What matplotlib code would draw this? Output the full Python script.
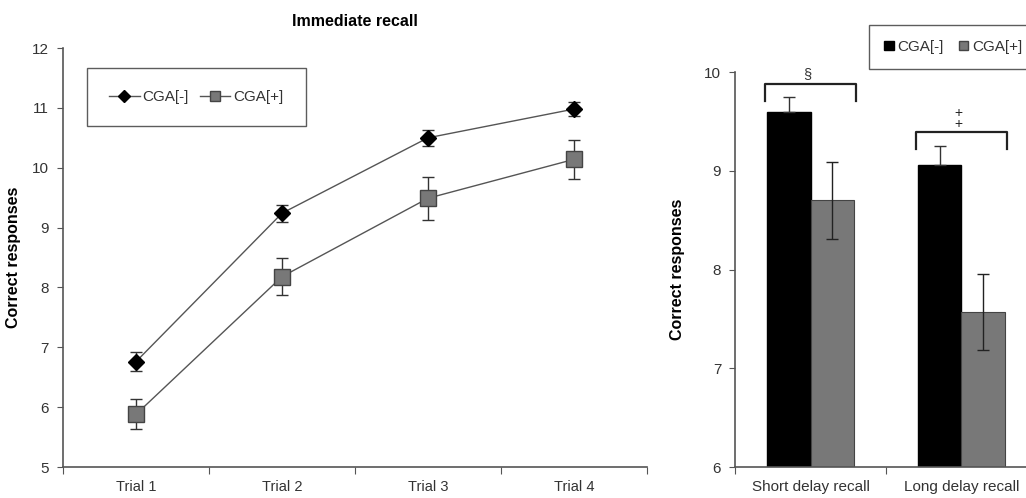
import matplotlib.pyplot as plt
from matplotlib.lines import Line2D
from matplotlib.patches import Patch
import numpy as np

# Immediate recall (line chart)
trials = ['Trial 1', 'Trial 2', 'Trial 3', 'Trial 4']
neg_mean = [6.76, 9.24, 10.5, 10.98]
neg_err = [0.16, 0.14, 0.13, 0.11]
pos_mean = [5.88, 8.18, 9.49, 10.14]
pos_err = [0.25, 0.31, 0.36, 0.32]

# Delayed recall (bar chart)
delays = ['Short delay recall', 'Long delay recall']
bar_neg = [9.6, 9.06]
bar_neg_err = [0.15, 0.19]
bar_pos = [8.7, 7.57]
bar_pos_err = [0.39, 0.38]

tick_col = '#333333'
axis_col = '#555555'
gray = '#787878'

plt.rcParams['font.family'] = ['Liberation Sans', 'DejaVu Sans']
fig = plt.figure(figsize=(10.26, 4.98), dpi=100)

# ---- left panel
ax = fig.add_axes([0.0614, 0.0622, 0.5692, 0.8414])
x = np.arange(len(trials))
ax.errorbar(x, neg_mean, yerr=neg_err, color='#555555', lw=1,
            marker='D', ms=8, mfc='black', mec='black',
            ecolor='#333333', elinewidth=1, capsize=4, capthick=1)
ax.errorbar(x, pos_mean, yerr=pos_err, color='#555555', lw=1,
            marker='s', ms=11, mfc=gray, mec='#444444',
            ecolor='#333333', elinewidth=1, capsize=4, capthick=1)
ax.set_xlim(-0.5, 3.5)
ax.set_ylim(5, 12)
ax.set_yticks(range(5, 13))
ax.set_xticks(np.arange(-0.5, 4, 1))
ax.set_xticklabels([])
ax.set_xticks(x, minor=True)
ax.set_xticklabels(trials, minor=True)
ax.tick_params(axis='x', which='minor', length=0, pad=9, labelsize=10.5, labelcolor=tick_col)
ax.tick_params(axis='x', which='major', length=5, color=axis_col, direction='out')
ax.tick_params(axis='y', length=4, color=axis_col, labelsize=11, labelcolor=tick_col, pad=6)
for s in ['top', 'right']:
    ax.spines[s].set_visible(False)
for s in ['left', 'bottom']:
    ax.spines[s].set_color(axis_col)
    ax.spines[s].set_linewidth(1.2)
ax.set_ylabel('Correct responses', fontsize=11.5, fontweight='bold', labelpad=8)
ax.set_title('Immediate recall', fontsize=11.5, fontweight='bold', pad=16)
h1 = [Line2D([], [], color='#555555', lw=1, marker='D', ms=6, mfc='black', mec='black'),
      Line2D([], [], color='#555555', lw=1, marker='s', ms=7, mfc=gray, mec='#444444')]
leg = ax.legend(h1, ['CGA[-]', 'CGA[+]'], loc='upper left', bbox_to_anchor=(0.041, 0.952),
                ncol=2, frameon=True, fancybox=False, edgecolor='#333333', fontsize=11,
                handlelength=2.0, columnspacing=0.7, handletextpad=0.2, borderpad=1.45,
                borderaxespad=0)
leg.get_frame().set_linewidth(1.0)
for t in leg.get_texts():
    t.set_color(tick_col)

# ---- right panel
bx = fig.add_axes([0.7164, 0.0622, 0.2943, 0.7932])
xb = np.arange(len(delays))
w = 0.29
bx.bar(xb - w / 2, bar_neg, w, color='black', edgecolor='black')
bx.bar(xb + w / 2, bar_pos, w, color=gray, edgecolor='#444444', lw=0.8)
bx.errorbar(xb - w / 2, bar_neg, yerr=[np.zeros(len(bar_neg)), bar_neg_err], fmt='none',
            ecolor='#333333', elinewidth=1, capsize=4)
bx.errorbar(xb + w / 2, bar_pos, yerr=bar_pos_err, fmt='none', ecolor='#222222',
            elinewidth=1, capsize=4)
# significance brackets
bk_y = [9.88, 9.39]
for i in range(len(delays)):
    y0 = bk_y[i]
    bx.plot([i - w - 0.01, i - w - 0.01, i + w + 0.01, i + w + 0.01],
            [y0 - 0.17, y0, y0, y0 - 0.17], color='#222222', lw=1.6)
bx.text(0 - 0.02, bk_y[0] + 0.03, '§', ha='center', va='bottom', fontsize=10.5, color='#333333')
bx.text(1 - 0.02, 9.53, '+\n+', ha='center', va='center', fontsize=10, color='#222222',
        linespacing=0.75)
bx.set_xlim(-0.5, 1.5)
bx.set_ylim(6, 10)
bx.set_yticks(range(6, 11))
bx.set_xticks([-0.5, 0.5, 1.5])
bx.set_xticklabels([])
bx.set_xticks(xb, minor=True)
bx.set_xticklabels(delays, minor=True)
bx.tick_params(axis='x', which='minor', length=0, pad=9, labelsize=11, labelcolor=tick_col)
bx.tick_params(axis='x', which='major', length=5, color=axis_col, direction='out')
bx.tick_params(axis='y', length=4, color=axis_col, labelsize=11, labelcolor=tick_col, pad=6)
for s in ['top', 'right']:
    bx.spines[s].set_visible(False)
for s in ['left', 'bottom']:
    bx.spines[s].set_color(axis_col)
    bx.spines[s].set_linewidth(1.2)
bx.set_ylabel('Correct responses', fontsize=11.5, fontweight='bold', labelpad=14)
h2 = [Patch(facecolor='black', edgecolor='black'),
      Patch(facecolor=gray, edgecolor='#444444')]
leg2 = bx.legend(h2, ['CGA[-]', 'CGA[+]'], loc='upper left', bbox_to_anchor=(0.444, 1.12),
                 ncol=2, frameon=True, fancybox=False, edgecolor='#333333', fontsize=11,
                 handlelength=0.6, handleheight=0.6, columnspacing=1.0, handletextpad=0.25,
                 borderpad=1.0, borderaxespad=0)
leg2.get_frame().set_linewidth(1.0)
for t in leg2.get_texts():
    t.set_color(tick_col)

fig.savefig('out.png', dpi=100)
